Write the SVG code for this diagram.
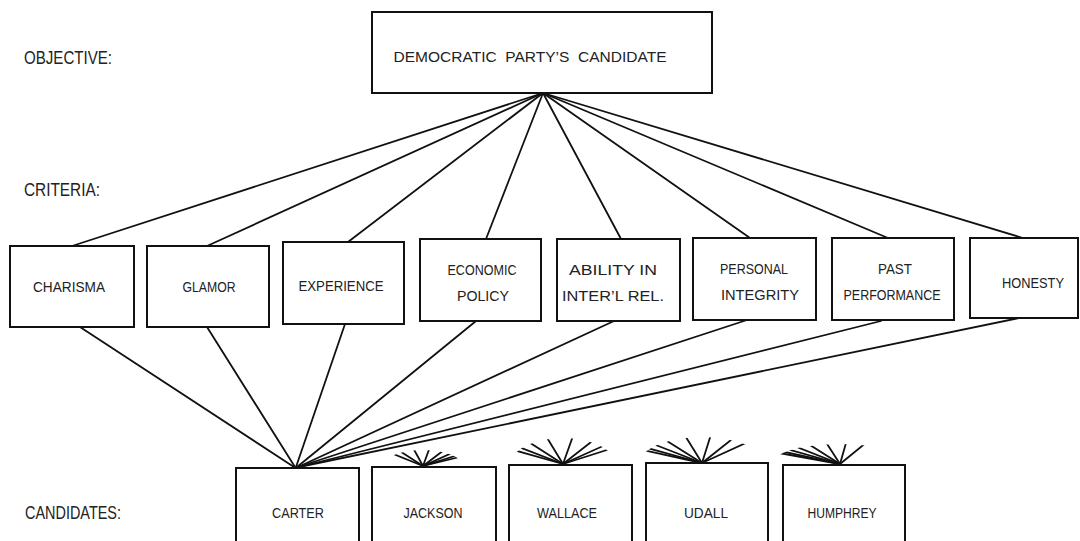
<svg xmlns="http://www.w3.org/2000/svg" width="1080" height="541" viewBox="0 0 1080 541">
<style>
.box{fill:#fff;stroke:#111;stroke-width:2}
.ln{stroke:#111;stroke-width:1.8;fill:none;stroke-linecap:round}
.t{font-family:"Liberation Sans",Arial,sans-serif;font-size:15px;fill:#222;text-anchor:middle}
.lbl{font-family:"Liberation Sans",Arial,sans-serif;font-size:19px;fill:#222}
</style>
<defs>
<clipPath id="cJ"><ellipse cx="423" cy="466" rx="40" ry="16"/></clipPath>
<clipPath id="cW"><ellipse cx="563" cy="464" rx="52" ry="26"/></clipPath>
<clipPath id="cU"><ellipse cx="702" cy="463" rx="62" ry="26"/></clipPath>
<clipPath id="cH"><ellipse cx="840" cy="464" rx="68" ry="20"/></clipPath>
</defs>
<rect width="1080" height="541" fill="#fff"/>

<g id="labels">
<text class="lbl" x="24" y="64" textLength="88" lengthAdjust="spacingAndGlyphs">OBJECTIVE:</text>
<text class="lbl" x="24" y="196" textLength="76" lengthAdjust="spacingAndGlyphs">CRITERIA:</text>
<text class="lbl" x="25" y="519" textLength="96" lengthAdjust="spacingAndGlyphs">CANDIDATES:</text>
</g>

<g id="connectors">
<g id="objective-criteria">
<line class="ln" x1="543" y1="93" x2="72" y2="246"/>
<line class="ln" x1="543" y1="93" x2="207" y2="246"/>
<line class="ln" x1="543" y1="93" x2="348" y2="242"/>
<line class="ln" x1="543" y1="93" x2="486" y2="239"/>
<line class="ln" x1="543" y1="93" x2="621" y2="239"/>
<line class="ln" x1="543" y1="93" x2="750" y2="238"/>
<line class="ln" x1="543" y1="93" x2="888" y2="238"/>
<line class="ln" x1="543" y1="93" x2="1023" y2="238"/>
</g>
<g id="criteria-carter">
<line class="ln" x1="80" y1="327" x2="294" y2="467"/>
<line class="ln" x1="207" y1="327" x2="295" y2="467"/>
<line class="ln" x1="345" y1="324" x2="296" y2="467"/>
<line class="ln" x1="476" y1="321" x2="297" y2="467"/>
<line class="ln" x1="614" y1="321" x2="298" y2="467"/>
<line class="ln" x1="747" y1="320" x2="298" y2="467"/>
<line class="ln" x1="881" y1="321" x2="299" y2="467"/>
<line class="ln" x1="1019" y1="318" x2="299" y2="467"/>
</g>
<g id="criteria-jackson" clip-path="url(#cJ)">
<line class="ln" x1="80" y1="327" x2="423" y2="466"/>
<line class="ln" x1="207" y1="327" x2="423" y2="466"/>
<line class="ln" x1="345" y1="324" x2="423" y2="466"/>
<line class="ln" x1="476" y1="321" x2="423" y2="466"/>
<line class="ln" x1="614" y1="321" x2="423" y2="466"/>
<line class="ln" x1="747" y1="320" x2="423" y2="466"/>
<line class="ln" x1="881" y1="321" x2="423" y2="466"/>
<line class="ln" x1="1019" y1="318" x2="423" y2="466"/>
</g>
<g id="criteria-wallace" clip-path="url(#cW)">
<line class="ln" x1="80" y1="327" x2="563" y2="464"/>
<line class="ln" x1="207" y1="327" x2="563" y2="464"/>
<line class="ln" x1="345" y1="324" x2="563" y2="464"/>
<line class="ln" x1="476" y1="321" x2="563" y2="464"/>
<line class="ln" x1="614" y1="321" x2="563" y2="464"/>
<line class="ln" x1="747" y1="320" x2="563" y2="464"/>
<line class="ln" x1="881" y1="321" x2="563" y2="464"/>
<line class="ln" x1="1019" y1="318" x2="563" y2="464"/>
</g>
<g id="criteria-udall" clip-path="url(#cU)">
<line class="ln" x1="80" y1="327" x2="702" y2="463"/>
<line class="ln" x1="207" y1="327" x2="702" y2="463"/>
<line class="ln" x1="345" y1="324" x2="702" y2="463"/>
<line class="ln" x1="476" y1="321" x2="702" y2="463"/>
<line class="ln" x1="614" y1="321" x2="702" y2="463"/>
<line class="ln" x1="747" y1="320" x2="702" y2="463"/>
<line class="ln" x1="881" y1="321" x2="702" y2="463"/>
<line class="ln" x1="1019" y1="318" x2="702" y2="463"/>
</g>
<g id="criteria-humphrey" clip-path="url(#cH)">
<line class="ln" x1="80" y1="327" x2="840" y2="464"/>
<line class="ln" x1="207" y1="327" x2="840" y2="464"/>
<line class="ln" x1="345" y1="324" x2="840" y2="464"/>
<line class="ln" x1="476" y1="321" x2="840" y2="464"/>
<line class="ln" x1="614" y1="321" x2="840" y2="464"/>
<line class="ln" x1="747" y1="320" x2="840" y2="464"/>
<line class="ln" x1="881" y1="321" x2="840" y2="464"/>
<line class="ln" x1="1019" y1="318" x2="840" y2="464"/>
</g>
</g>

<g id="objective">
<rect class="box" x="372" y="12" width="340" height="81"/>
<text class="t" x="530" y="62" textLength="273" lengthAdjust="spacingAndGlyphs" xml:space="preserve">DEMOCRATIC  PARTY’S  CANDIDATE</text>
</g>

<g id="charisma">
<rect class="box" x="10" y="246" width="124" height="81"/>
<text class="t" x="69" y="292" textLength="72" lengthAdjust="spacingAndGlyphs">CHARISMA</text>
</g>
<g id="glamor">
<rect class="box" x="147" y="246" width="122" height="81"/>
<text class="t" x="209" y="292" textLength="53" lengthAdjust="spacingAndGlyphs">GLAMOR</text>
</g>
<g id="experience">
<rect class="box" x="283" y="242" width="121" height="82"/>
<text class="t" x="341" y="291" textLength="85" lengthAdjust="spacingAndGlyphs">EXPERIENCE</text>
</g>
<g id="economic-policy">
<rect class="box" x="420" y="239" width="121" height="82"/>
<text class="t" x="482" y="275" textLength="69" lengthAdjust="spacingAndGlyphs">ECONOMIC</text>
<text class="t" x="483" y="301" textLength="52" lengthAdjust="spacingAndGlyphs">POLICY</text>
</g>
<g id="ability">
<rect class="box" x="557" y="239" width="123" height="82"/>
<text class="t" x="613" y="275" textLength="88" lengthAdjust="spacingAndGlyphs">ABILITY IN</text>
<text class="t" x="613" y="301" textLength="102" lengthAdjust="spacingAndGlyphs">INTER’L REL.</text>
</g>
<g id="personal-integrity">
<rect class="box" x="693" y="238" width="123" height="82"/>
<text class="t" x="754" y="274" textLength="68" lengthAdjust="spacingAndGlyphs">PERSONAL</text>
<text class="t" x="760" y="300" textLength="78" lengthAdjust="spacingAndGlyphs">INTEGRITY</text>
</g>
<g id="past-performance">
<rect class="box" x="832" y="238" width="122" height="82"/>
<text class="t" x="895" y="274" textLength="34" lengthAdjust="spacingAndGlyphs">PAST</text>
<text class="t" x="892" y="300" textLength="97" lengthAdjust="spacingAndGlyphs">PERFORMANCE</text>
</g>
<g id="honesty">
<rect class="box" x="970" y="238" width="108" height="80"/>
<text class="t" x="1033" y="288" textLength="62" lengthAdjust="spacingAndGlyphs">HONESTY</text>
</g>

<g id="carter">
<rect class="box" x="236" y="468" width="123" height="90"/>
<text class="t" x="298" y="518" textLength="52" lengthAdjust="spacingAndGlyphs">CARTER</text>
</g>
<g id="jackson">
<rect class="box" x="372" y="467" width="124" height="90"/>
<text class="t" x="433" y="518" textLength="59" lengthAdjust="spacingAndGlyphs">JACKSON</text>
</g>
<g id="wallace">
<rect class="box" x="509" y="465" width="123" height="90"/>
<text class="t" x="567" y="518" textLength="60" lengthAdjust="spacingAndGlyphs">WALLACE</text>
</g>
<g id="udall">
<rect class="box" x="646" y="463" width="122" height="90"/>
<text class="t" x="706" y="518" textLength="44" lengthAdjust="spacingAndGlyphs">UDALL</text>
</g>
<g id="humphrey">
<rect class="box" x="783" y="465" width="122" height="90"/>
<text class="t" x="842" y="518" textLength="69" lengthAdjust="spacingAndGlyphs">HUMPHREY</text>
</g>
</svg>
